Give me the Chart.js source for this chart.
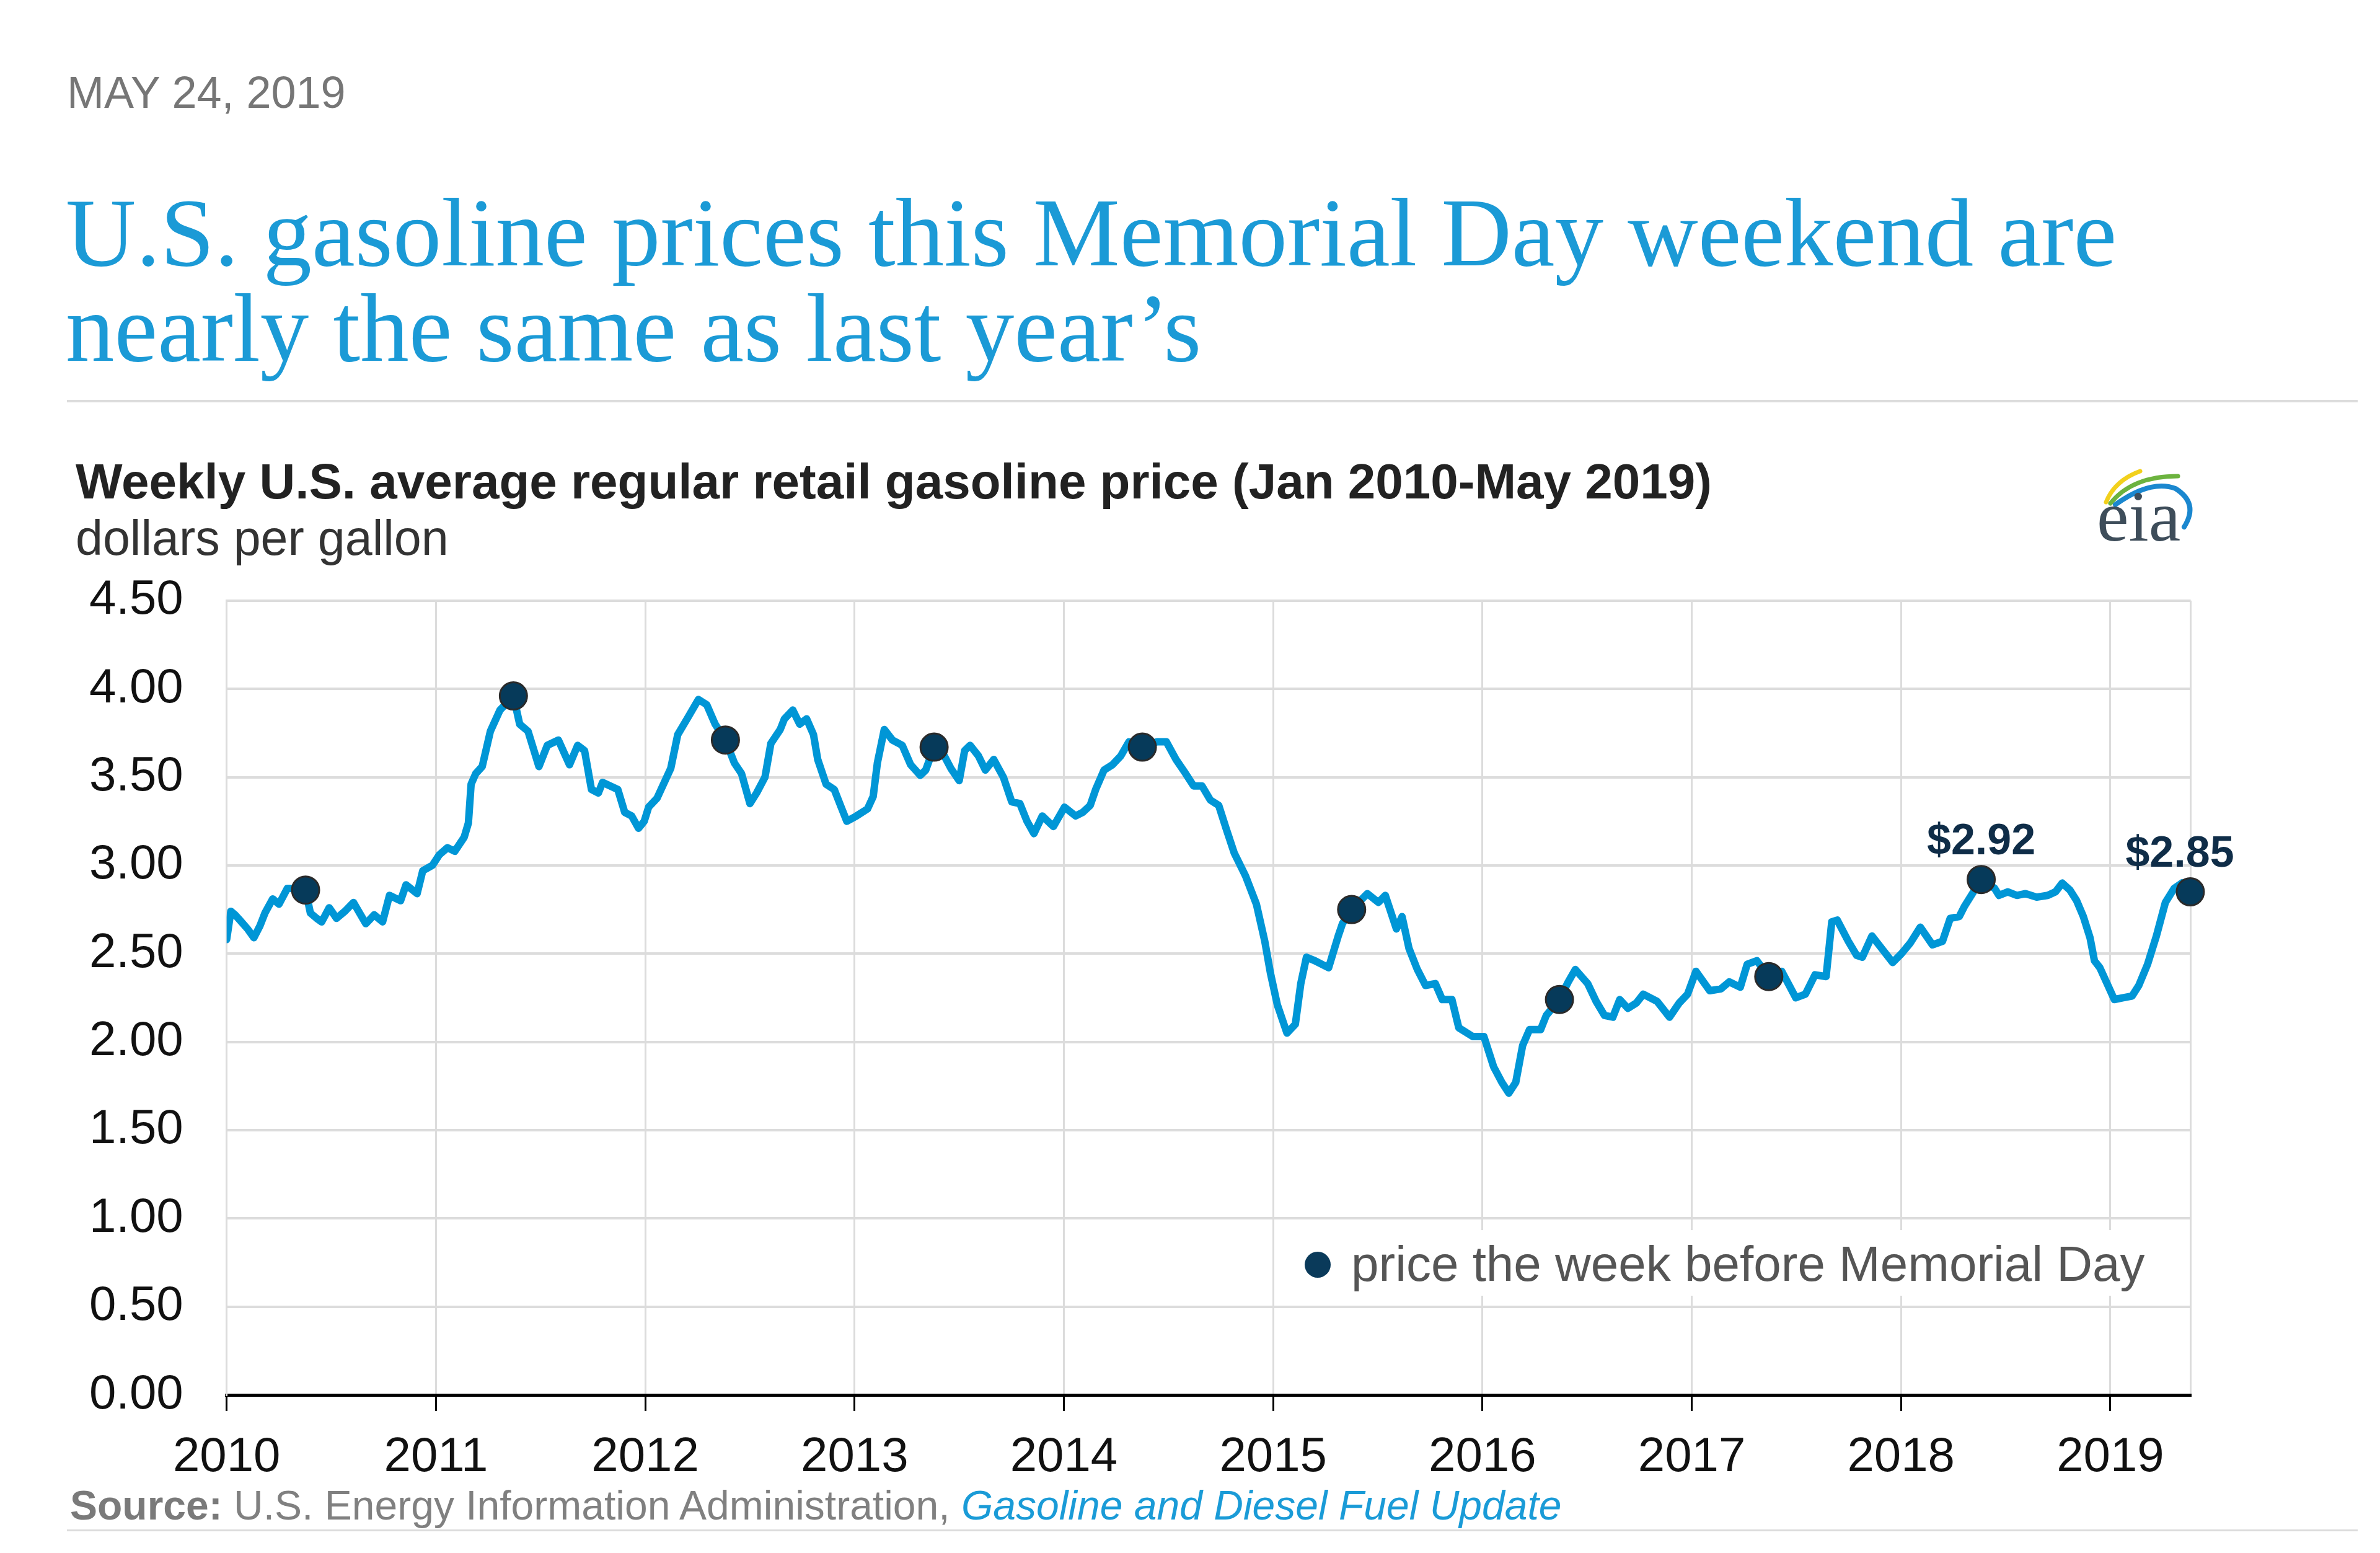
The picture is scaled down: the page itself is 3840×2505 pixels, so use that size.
<!DOCTYPE html>
<html>
<head>
<meta charset="utf-8">
<script src="https://cdn.jsdelivr.net/npm/chart.js@4.4.1/dist/chart.umd.min.js"></script>
<style>
html,body{margin:0;padding:0;background:#fff;}
body{width:3840px;height:2505px;position:relative;overflow:hidden;font-family:"Liberation Sans",Arial,sans-serif;}
.t{position:absolute;white-space:nowrap;line-height:1;}
.rule{position:absolute;left:108px;width:3696px;background:#dcdcdc;}
#c{position:absolute;left:0;top:852px;}
#legend{position:absolute;left:2096px;top:1984px;width:1390px;height:106px;background:#fff;}
</style>
</head>
<body>
<div class="t" style="left:108px;top:113px;font-size:72px;color:#767676;">MAY 24, 2019</div>
<div class="t" style="left:106px;top:297px;font-size:157px;font-family:'Liberation Serif','Times New Roman',serif;color:#1b9ad6;">U.S. gasoline prices this Memorial Day weekend are</div>
<div class="t" style="left:106px;top:451px;font-size:157px;font-family:'Liberation Serif','Times New Roman',serif;color:#1b9ad6;">nearly the same as last year’s</div>
<div class="rule" style="top:645px;height:4px;"></div>
<div class="t" style="left:122px;top:737px;font-size:80px;font-weight:bold;color:#222;">Weekly U.S. average regular retail gasoline price (Jan 2010-May 2019)</div>
<div class="t" style="left:122px;top:828px;font-size:79px;color:#333;">dollars per gallon</div>
<svg style="position:absolute;left:3360px;top:740px;" width="200" height="150" viewBox="3360 740 200 150">
  <path d="M3398,810 Q3412,775 3453,760" fill="none" stroke="#f2d01c" stroke-width="7" stroke-linecap="round"/>
  <path d="M3405,812 Q3440,768 3514,768" fill="none" stroke="#6cb33f" stroke-width="7" stroke-linecap="round"/>
  <path d="M3413,814 Q3470,773 3510,788 Q3548,812 3524,850" fill="none" stroke="#1a87cf" stroke-width="8" stroke-linecap="round"/>
  <text x="3383" y="872" font-family="'Liberation Serif','Times New Roman',serif" font-size="116" fill="#3e4d5a">eia</text>
</svg>
<canvas id="c" width="3840" height="1588"></canvas>
<div id="legend">
  <div style="position:absolute;left:9px;top:35px;width:42px;height:42px;border-radius:50%;background:#0a3a5a;"></div>
  <div class="t" style="left:84px;top:15px;font-size:80px;color:#555;">price the week before Memorial Day</div>
</div>
<div class="t" style="left:113px;top:2395px;font-size:66px;color:#808080;"><b style="color:#7a7a7a;">Source:</b> U.S. Energy Information Administration, <i style="color:#1a9bd7;">Gasoline and Diesel Fuel Update</i></div>
<div class="rule" style="top:2467px;height:3px;"></div>

<script>
// ---- data ----
const weekDates = [
2010.000,2010.020,2010.040,2010.063,2010.100,2010.130,2010.160,2010.183,2010.220,2010.250,
2010.290,2010.320,2010.350,2010.377,2010.400,2010.430,2010.454,2010.490,2010.525,2010.565,
2010.606,2010.640,2010.665,2010.705,2010.745,2010.778,2010.831,2010.857,2010.910,2010.937,
2010.983,2011.016,2011.055,2011.090,2011.135,2011.155,2011.168,2011.190,2011.221,2011.260,
2011.306,2011.370,2011.400,2011.440,2011.492,2011.532,2011.585,2011.638,2011.677,2011.710,
2011.743,2011.776,2011.796,2011.869,2011.902,2011.935,2011.968,2011.995,2012.016,2012.056,
2012.122,2012.155,2012.200,2012.254,2012.294,2012.334,2012.383,2012.426,2012.460,2012.500,
2012.532,2012.572,2012.600,2012.645,2012.665,2012.705,2012.738,2012.771,2012.804,2012.824,
2012.864,2012.903,2012.936,2012.963,2013.009,2013.062,2013.089,2013.109,2013.142,2013.181,
2013.228,2013.268,2013.314,2013.340,2013.380,2013.420,2013.460,2013.500,2013.526,2013.552,
2013.592,2013.625,2013.665,2013.711,2013.751,2013.790,2013.824,2013.857,2013.897,2013.950,
2014.003,2014.056,2014.090,2014.126,2014.152,2014.192,2014.232,2014.272,2014.311,2014.375,
2014.444,2014.490,2014.536,2014.576,2014.620,2014.660,2014.700,2014.740,2014.775,2014.814,
2014.868,2014.920,2014.960,2014.987,2015.020,2015.066,2015.106,2015.132,2015.159,2015.199,
2015.265,2015.311,2015.331,2015.375,2015.450,2015.503,2015.536,2015.589,2015.616,2015.649,
2015.689,2015.728,2015.775,2015.808,2015.854,2015.887,2015.954,2016.007,2016.053,2016.093,
2016.126,2016.159,2016.192,2016.225,2016.278,2016.305,2016.368,2016.410,2016.444,2016.503,
2016.543,2016.583,2016.623,2016.656,2016.695,2016.735,2016.768,2016.834,2016.894,2016.940,
2016.980,2017.020,2017.086,2017.139,2017.179,2017.232,2017.265,2017.311,2017.368,2017.430,
2017.497,2017.543,2017.589,2017.642,2017.669,2017.695,2017.748,2017.788,2017.815,2017.861,
2017.907,2017.960,2018.002,2018.044,2018.092,2018.150,2018.198,2018.235,2018.278,2018.304,
2018.341,2018.383,2018.447,2018.468,2018.510,2018.553,2018.595,2018.648,2018.701,2018.738,
2018.770,2018.807,2018.839,2018.871,2018.903,2018.924,2018.950,2018.977,2019.019,2019.061,
2019.104,2019.136,2019.178,2019.220,2019.263,2019.305,2019.342,2019.382
];
const weekPrices = [
2.58,2.74,2.72,2.69,2.64,2.59,2.66,2.73,2.81,2.78,
2.87,2.87,2.84,2.86,2.73,2.70,2.68,2.76,2.70,2.74,
2.79,2.72,2.67,2.72,2.68,2.83,2.80,2.89,2.84,2.97,
3.00,3.06,3.10,3.08,3.16,3.24,3.46,3.52,3.56,3.76,
3.88,3.96,3.80,3.76,3.56,3.68,3.71,3.57,3.68,3.65,
3.43,3.41,3.47,3.43,3.30,3.28,3.21,3.25,3.33,3.38,
3.55,3.74,3.83,3.94,3.91,3.80,3.71,3.58,3.52,3.35,
3.41,3.50,3.69,3.77,3.83,3.88,3.80,3.83,3.74,3.60,
3.46,3.43,3.33,3.25,3.28,3.32,3.39,3.58,3.77,3.71,
3.68,3.57,3.51,3.54,3.67,3.64,3.55,3.48,3.65,3.68,
3.62,3.54,3.60,3.50,3.36,3.35,3.25,3.18,3.28,3.22,
3.33,3.28,3.30,3.34,3.43,3.54,3.57,3.62,3.70,3.67,
3.70,3.70,3.60,3.53,3.45,3.45,3.37,3.34,3.21,3.07,
2.94,2.78,2.57,2.39,2.21,2.05,2.10,2.33,2.48,2.46,
2.42,2.60,2.67,2.75,2.84,2.79,2.83,2.64,2.71,2.53,
2.41,2.32,2.33,2.24,2.24,2.08,2.03,2.03,1.86,1.77,
1.71,1.77,1.98,2.07,2.07,2.15,2.24,2.34,2.41,2.33,
2.23,2.15,2.14,2.24,2.19,2.22,2.27,2.23,2.14,2.22,
2.27,2.40,2.29,2.30,2.34,2.31,2.44,2.46,2.37,2.40,
2.25,2.27,2.38,2.37,2.68,2.69,2.57,2.49,2.48,2.60,
2.53,2.45,2.50,2.56,2.65,2.55,2.57,2.70,2.71,2.77,
2.84,2.92,2.87,2.83,2.85,2.83,2.84,2.82,2.83,2.85,
2.90,2.86,2.80,2.71,2.59,2.46,2.42,2.35,2.24,2.25,
2.26,2.32,2.44,2.60,2.79,2.87,2.90,2.85
];
const memorialDates  = [2010.377,2011.370,2012.383,2013.380,2014.375,2015.375,2016.368,2017.368,2018.383,2019.382];
const memorialPrices = [2.86,3.96,3.71,3.67,3.67,2.75,2.24,2.37,2.92,2.85];
const memorialLabels = ['','','','','','','','','$2.92','$2.85'];
const xTickLabels = ['2010','2011','2012','2013','2014','2015','2016','2017','2018','2019'];
const yTickValues = [0,0.5,1,1.5,2,2.5,3,3.5,4,4.5];
const xMin = 2010, xMax = 2019.384;

// ---- chart ----
const FONT = '"Liberation Sans", Arial, sans-serif';
Chart.defaults.font.family = FONT;

const labelPlugin = {
  id: 'memLabels',
  afterDatasetsDraw(chart) {
    const meta = chart.getDatasetMeta(0);
    const ctx = chart.ctx;
    ctx.save();
    ctx.font = 'bold 70px ' + FONT;
    ctx.fillStyle = '#0f2d48';
    ctx.textAlign = 'center';
    ctx.textBaseline = 'alphabetic';
    meta.data.forEach((pt, i) => {
      const txt = memorialLabels[i];
      if (!txt) return;
      const w = ctx.measureText(txt).width;
      const cx = Math.min(pt.x, chart.chartArea.right + 70 - w / 2);
      ctx.fillText(txt, cx, pt.y - 41);
    });
    ctx.restore();
  }
};

new Chart(document.getElementById('c'), {
  type: 'line',
  data: {
    datasets: [
      {
        label: 'price the week before Memorial Day',
        data: memorialDates.map((x, i) => ({x: x, y: memorialPrices[i]})),
        showLine: false,
        pointRadius: 22,
        pointBackgroundColor: '#063a5a',
        pointBorderColor: '#2a2a2a',
        pointBorderWidth: 3,
        clip: false,
        order: 0
      },
      {
        label: 'weekly price',
        data: weekDates.map((x, i) => ({x: x, y: weekPrices[i]})),
        borderColor: '#0096d6',
        borderWidth: 12,
        pointRadius: 0,
        tension: 0,
        borderJoinStyle: 'round',
        borderCapStyle: 'round',
        fill: false,
        order: 1
      }
    ]
  },
  options: {
    responsive: false,
    devicePixelRatio: 1,
    animation: false,
    events: [],
    layout: { padding: { left: 0, top: 0, right: 305.4, bottom: 0 } },
    plugins: { legend: { display: false }, tooltip: { enabled: false } },
    scales: {
      x: {
        type: 'linear',
        min: xMin,
        max: xMax,
        afterBuildTicks: s => { s.ticks = xTickLabels.map(l => ({value: +l})).concat([{value: xMax}]); },
        afterFit: s => { s.height = 190; },
        ticks: {
          autoSkip: false, maxRotation: 0, minRotation: 0,
          callback: v => xTickLabels.includes(String(v)) ? String(v) : '',
          font: { size: 78 }, color: '#111', padding: 29
        },
        grid: {
          color: '#dcdcdc', lineWidth: 3, drawTicks: true, tickLength: 26, tickWidth: 3,
          tickColor: c => (c.tick && xTickLabels.includes(String(c.tick.value))) ? '#000' : 'rgba(0,0,0,0)'
        },
        border: { color: '#000', width: 5 }
      },
      y: {
        type: 'linear',
        min: 0,
        max: 4.5,
        afterBuildTicks: s => { s.ticks = yTickValues.map(v => ({value: v})); },
        afterFit: s => { s.width = 365.7; },
        ticks: { callback: v => Number(v).toFixed(2), font: { size: 78 }, color: '#111', padding: 70 },
        grid: {
          color: c => (c.tick && c.tick.value === 0) ? 'rgba(0,0,0,0)' : '#dcdcdc',
          lineWidth: 4, drawTicks: false
        },
        border: { color: '#dcdcdc', width: 3 }
      }
    }
  },
  plugins: [labelPlugin]
});
</script>
</body>
</html>
